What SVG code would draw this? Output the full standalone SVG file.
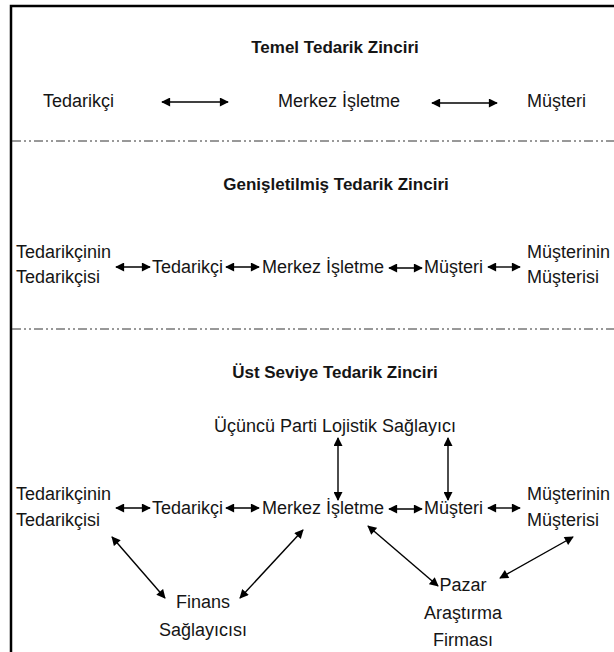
<svg xmlns="http://www.w3.org/2000/svg" width="614" height="652" viewBox="0 0 614 652">
<style>
  text { font-family: "Liberation Sans", Arial, sans-serif; font-size: 18px; fill: #151515; }
  .title { font-weight: bold; font-size: 17px; text-anchor: middle; }
  .mid { text-anchor: middle; }
  .arrow { stroke: #000; stroke-width: 1.4; fill: none; marker-start: url(#ah); marker-end: url(#ah); }
  .sep { stroke: #333; stroke-width: 1; stroke-dasharray: 9 3 2 3 2 3; fill: none; }
  .frame { stroke: #000; stroke-width: 2.5; fill: none; }
</style>
<defs>
  <marker id="ah" viewBox="0 0 10 10" refX="9" refY="5" markerWidth="10" markerHeight="9" markerUnits="userSpaceOnUse" orient="auto-start-reverse">
    <path d="M0,0 L10,5 L0,10 Z" fill="#000"/>
  </marker>
</defs>
<rect width="614" height="652" fill="#fff"/>
<g id="frame">
  <path class="frame" d="M11,652 V6 H614"/>
  <line class="sep" x1="12" y1="141" x2="614" y2="141"/>
  <line class="sep" x1="12" y1="329" x2="614" y2="329"/>
</g>
<g id="titles">
  <text class="title" x="335" y="53">Temel Tedarik Zinciri</text>
  <text class="title" x="336" y="190">Genişletilmiş Tedarik Zinciri</text>
  <text class="title" x="335" y="378">Üst Seviye Tedarik Zinciri</text>
</g>
<!-- Section 1 -->
<g id="s1-tedarikci"><text x="43" y="107">Tedarikçi</text></g>
<g id="s1-merkez"><text x="278" y="107">Merkez İşletme</text></g>
<g id="s1-musteri"><text x="527" y="107">Müşteri</text></g>
<!-- Section 2 -->
<g id="s2-tt"><text x="16" y="258">Tedarikçinin</text><text x="16" y="283">Tedarikçisi</text></g>
<g id="s2-tedarikci"><text x="152" y="273">Tedarikçi</text></g>
<g id="s2-merkez"><text x="262" y="273">Merkez İşletme</text></g>
<g id="s2-musteri"><text x="424" y="273">Müşteri</text></g>
<g id="s2-mm"><text x="527" y="258">Müşterinin</text><text x="527" y="283">Müşterisi</text></g>
<!-- Section 3 -->
<g id="s3-3pl"><text class="mid" x="335" y="432">Üçüncü Parti Lojistik Sağlayıcı</text></g>
<g id="s3-tt"><text x="16" y="500">Tedarikçinin</text><text x="16" y="526">Tedarikçisi</text></g>
<g id="s3-tedarikci"><text x="152" y="514">Tedarikçi</text></g>
<g id="s3-merkez"><text x="262" y="514">Merkez İşletme</text></g>
<g id="s3-musteri"><text x="424" y="514">Müşteri</text></g>
<g id="s3-mm"><text x="527" y="500">Müşterinin</text><text x="527" y="526">Müşterisi</text></g>
<g id="s3-finans"><text class="mid" x="203" y="608">Finans</text><text class="mid" x="203" y="636">Sağlayıcısı</text></g>
<g id="s3-pazar"><text class="mid" x="463" y="591">Pazar</text><text class="mid" x="463" y="619">Araştırma</text><text class="mid" x="463" y="646">Firması</text></g>
<g id="connectors">
  <line class="arrow" x1="162" y1="102" x2="228" y2="102"/>
  <line class="arrow" x1="432" y1="103" x2="497" y2="103"/>

  <line class="arrow" x1="116" y1="267" x2="150" y2="267"/>
  <line class="arrow" x1="226" y1="267" x2="259" y2="267"/>
  <line class="arrow" x1="389" y1="268" x2="422" y2="268"/>
  <line class="arrow" x1="488" y1="267" x2="520" y2="267"/>

  <line class="arrow" x1="338" y1="438" x2="338" y2="500"/>
  <line class="arrow" x1="448" y1="438" x2="448" y2="500"/>

  <line class="arrow" x1="116" y1="508" x2="150" y2="508"/>
  <line class="arrow" x1="226" y1="508" x2="259" y2="508"/>
  <line class="arrow" x1="389" y1="509" x2="422" y2="509"/>
  <line class="arrow" x1="488" y1="508" x2="520" y2="508"/>

  <line class="arrow" x1="112" y1="537" x2="165" y2="598"/>
  <line class="arrow" x1="303" y1="530" x2="240" y2="598"/>
  <line class="arrow" x1="368" y1="526" x2="438" y2="586"/>
  <line class="arrow" x1="573" y1="537" x2="500" y2="578"/>
</g>
</svg>
